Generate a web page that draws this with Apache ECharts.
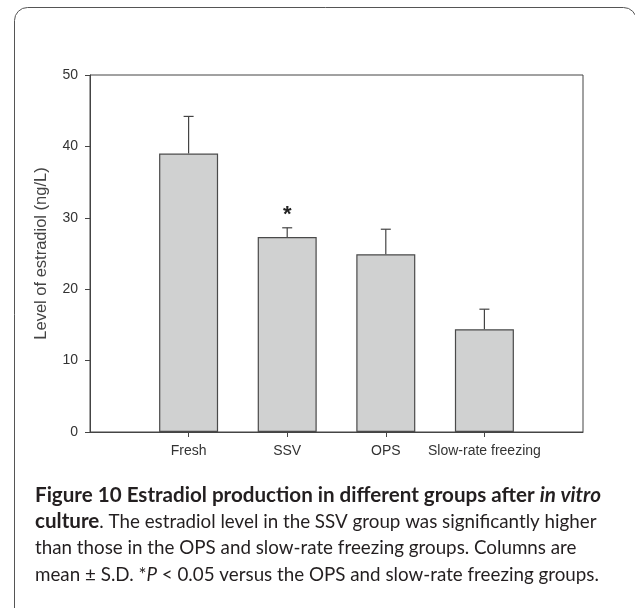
<!DOCTYPE html>
<html>
<head>
<meta charset="utf-8">
<script src="https://cdn.jsdelivr.net/npm/echarts@6/dist/echarts.min.js"></script>
<style>
html,body{margin:0;padding:0;background:#fff;}
#chart{width:635px;height:608px;}
</style>
</head>
<body>
<div id="chart"></div>
<script>
// ---- data ----
var categories = ['Fresh', 'SSV', 'OPS', 'Slow-rate freezing'];
var means = [39.0, 27.3, 24.9, 14.4];
var sds = [5.2, 1.3, 3.5, 2.8];
var marks = ['', '*', '', ''];
var yTicks = [0, 10, 20, 30, 40, 50];
var yTitle = 'Level of estradiol (ng/L)';
var captionLines = [
  '{b|Figure 10 Estradiol production in different groups after }{bi|in vitro}',
  '{b|culture}. The estradiol level in the SSV group was significantly higher',
  'than those in the OPS and slow-rate freezing groups. Columns are',
  'mean \u00b1 S.D. *{i|P} < 0.05 versus the OPS and slow-rate freezing groups.'
];

// padded category axis (empty slot at each end)
var axisCats = [''].concat(categories).concat(['']);
var barData = [null].concat(means).concat([null]);
var errData = means.map(function (m, i) { return [i + 1, m, sds[i]]; });

var chart = echarts.init(document.getElementById('chart'), null, {renderer: 'canvas'});

var capFont = 'Lato, "Open Sans", sans-serif';
var capSize = 18.8;
var capBold = 20.6;
var captionGraphics = captionLines.map(function (t, i) {
  return {
    type: 'text',
    style: {
      text: t,
      x: 35,
      y: 495 + i * 26.6,
      verticalAlign: 'middle',
      font: '400 ' + capSize + 'px ' + capFont,
      fill: '#231f20',
      rich: {
        b: {fontWeight: 'bold', fontSize: capBold, fontFamily: capFont, fill: '#231f20'},
        bi: {fontWeight: 'bold', fontStyle: 'italic', fontSize: capBold, fontFamily: capFont, fill: '#231f20'},
        i: {fontStyle: 'italic', fontSize: capSize, fontFamily: capFont, fill: '#231f20'}
      }
    }
  };
});

var option = {
  backgroundColor: '#ffffff',
  animation: false,
  grid: {
    left: 90, top: 75, right: 52, bottom: 176,
    show: true, borderColor: '#444', borderWidth: 1, backgroundColor: 'transparent'
  },
  xAxis: {
    type: 'category',
    data: axisCats,
    boundaryGap: false,
    axisLine: {lineStyle: {color: '#444', width: 1}},
    axisTick: {
      show: true, length: 5, inside: false,
      lineStyle: {color: '#444'},
      interval: function (idx) { return idx > 0 && idx < axisCats.length - 1; }
    },
    axisLabel: {
      interval: 0, margin: 12,
      fontFamily: '"Liberation Sans", Arial, sans-serif', fontSize: 14, color: '#333'
    },
    splitLine: {show: false}
  },
  yAxis: {
    type: 'value',
    min: yTicks[0], max: yTicks[yTicks.length - 1], interval: 10,
    name: yTitle,
    nameLocation: 'middle',
    nameGap: 40,
    nameTextStyle: {fontFamily: '"Liberation Sans", Arial, sans-serif', fontSize: 16.5, color: '#444'},
    axisLine: {show: true, lineStyle: {color: '#444', width: 1}},
    axisTick: {show: true, length: 5, inside: false, lineStyle: {color: '#444'}},
    axisLabel: {margin: 12, fontFamily: '"Liberation Sans", Arial, sans-serif', fontSize: 14, color: '#333'},
    splitLine: {show: false}
  },
  series: [
    {
      type: 'bar',
      data: barData,
      barWidth: 59,
      itemStyle: {color: '#d0d1d1', borderColor: '#4a4a4a', borderWidth: 1.2},
      z: 2
    },
    {
      type: 'custom',
      data: errData,
      z: 3,
      renderItem: function (params, api) {
        var x = api.value(0), m = api.value(1), s = api.value(2);
        var base = api.coord([x, m]);
        var top = api.coord([x, m + s]);
        var hw = 5;
        var children = [
          {type: 'line', shape: {x1: base[0], y1: base[1], x2: top[0], y2: top[1]},
           style: {stroke: '#444', lineWidth: 1.2}},
          {type: 'line', shape: {x1: top[0] - hw, y1: top[1], x2: top[0] + hw, y2: top[1]},
           style: {stroke: '#444', lineWidth: 1.2}}
        ];
        var mk = marks[params.dataIndex];
        if (mk) {
          children.push({type: 'text', style: {
            text: mk, x: top[0], y: top[1] - 13, align: 'center', verticalAlign: 'middle',
            font: 'bold 22px "Liberation Sans", Arial, sans-serif', fill: '#222'
          }});
        }
        return {type: 'group', children: children};
      }
    }
  ],
  graphic: [
    {
      type: 'rect',
      shape: {x: 14.5, y: 7.5, width: 622, height: 620, r: 13},
      style: {fill: 'none', stroke: '#555', lineWidth: 1},
      silent: true
    }
  ].concat(captionGraphics)
};
chart.setOption(option);
</script>
</body>
</html>
